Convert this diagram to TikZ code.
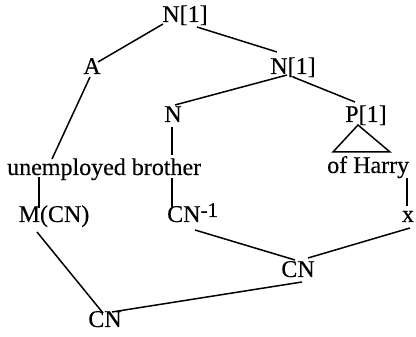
\documentclass[tikz,border=0pt]{standalone}
\usepackage{fontspec}
\setmainfont[FakeBold=0.3]{Liberation Serif}
\begin{document}
\begin{tikzpicture}[x=1pt,y=1pt,
  lbl/.style={inner sep=0pt,font=\fontsize{24}{28}\selectfont},
  edge/.style={line width=1.5pt}]
\useasboundingbox (0,0) rectangle (416,337);
% nodes (base anchors)
\node[lbl,anchor=base] (n1) at (185,315) {N[1]};
\node[lbl,anchor=base] (a) at (92,263) {A};
\node[lbl,anchor=base] (n1b) at (293,263) {N[1]};
\node[lbl,anchor=base] (n) at (173,215) {N};
\node[lbl,anchor=base] (p1) at (366,215) {P[1]};
\node[lbl,anchor=base west] (un) at (7,162) {unemployed brother};
\node[lbl,anchor=base west] (oh) at (327,164) {of Harry};
\node[lbl,anchor=base] (m) at (54,115) {M(CN)};
\node[lbl,anchor=base west] (cni) at (167,115) {CN\raisebox{5pt}{\fontsize{21}{21}\selectfont -1}};
\node[lbl,anchor=base] (x) at (408,115) {x};
\node[lbl,anchor=base] (cnm) at (298,60) {CN};
\node[lbl,anchor=base] (cnb) at (105,10) {CN};
% connectors
\draw[edge] ([shift={(-22,-2)}]n1.base) -- ([shift={(6,12)}]a.base);
\draw[edge] ([shift={(12,-5)}]n1.base) -- ([shift={(-16,22)}]n1b.base);
\draw[edge] ([shift={(-2,-3)}]a.base) -- ([shift={(45,16)}]un.base west);
\draw[edge] ([shift={(-6,-1)}]n1b.base) -- ([shift={(2,17)}]n.base);
\draw[edge] ([shift={(0,-3)}]n1b.base) -- ([shift={(-11,20)}]p1.base);
\draw[edge] ([shift={(-1,-5)}]n.base) -- ([shift={(165,20)}]un.base west);
\draw[edge,line join=miter] ([shift={(-8,-3)}]p1.base) -- ([shift={(-33,-30)}]p1.base) -- ([shift={(24,-30)}]p1.base) -- cycle;
\draw[edge] ([shift={(32,-2)}]un.base west) -- ([shift={(-15,14)}]m.base);
\draw[edge] ([shift={(165,-3)}]un.base west) -- ([shift={(5,15)}]cni.base west);
\draw[edge] ([shift={(80,-5)}]oh.base west) -- ([shift={(-1,16)}]x.base);
\draw[edge] ([shift={(-17,-10)}]m.base) -- ([shift={(-2,14)}]cnb.base);
\draw[edge] ([shift={(28,-8)}]cni.base west) -- ([shift={(-3,17)}]cnm.base);
\draw[edge] ([shift={(2,-6)}]x.base) -- ([shift={(10,19)}]cnm.base);
\draw[edge] ([shift={(4,-5)}]cnm.base) -- ([shift={(7,15)}]cnb.base);
\end{tikzpicture}
\end{document}
